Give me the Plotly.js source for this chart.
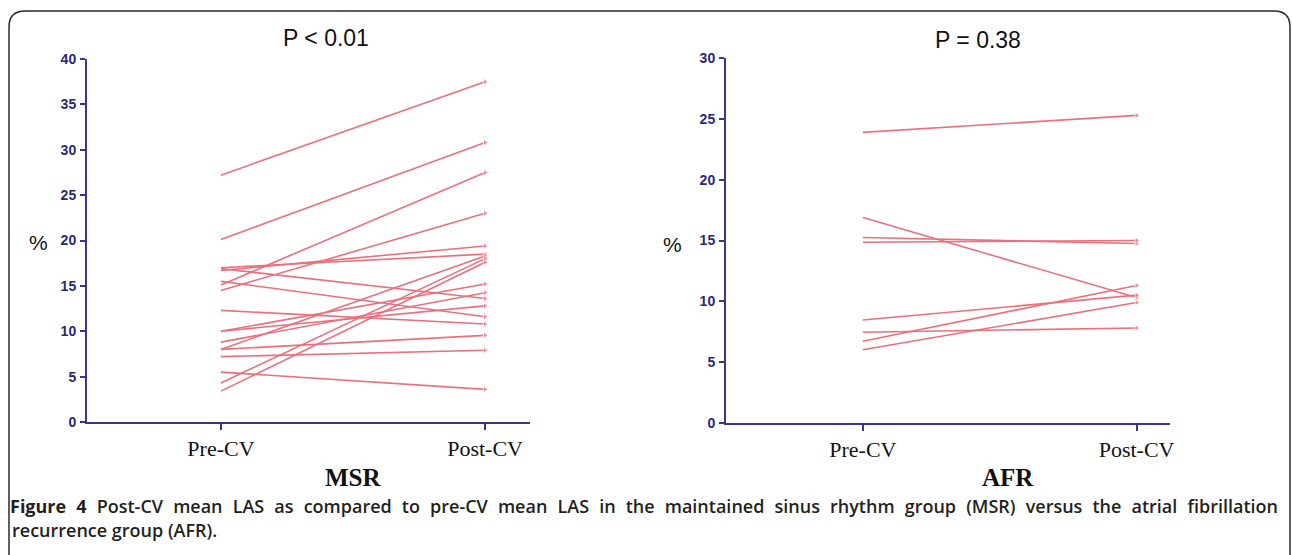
<!DOCTYPE html>
<html>
<head>
<meta charset="utf-8">
<script src="https://cdn.plot.ly/plotly-3.0.1.min.js"></script>
<style>html,body{margin:0;padding:0;background:#fff;}#chart{width:1292px;height:555px;}</style>
</head>
<body>
<div id="chart"></div>
<script>
// ---- data ----
const categories = ['Pre-CV', 'Post-CV'];
const msrPre  = [27.2, 20.1, 15.1, 14.5, 16.7, 17.0, 15.5, 16.9, 12.3, 10.0, 10.0, 8.8, 8.0, 8.0, 7.2, 5.5, 4.3, 3.4];
const msrPost = [37.5, 30.8, 27.5, 23.0, 19.4, 18.5, 11.6, 13.6, 10.8, 15.2, 12.8, 14.25, 18.3, 9.55, 7.9, 3.6, 18.0, 17.6];
const afrPre  = [23.9, 16.9, 15.25, 14.85, 8.45, 7.45, 6.7, 6.0];
const afrPost = [25.3, 10.3, 14.75, 15.0, 10.5, 7.8, 11.3, 9.9];
const yTicksMSR = [0, 5, 10, 15, 20, 25, 30, 35, 40];
const yTicksAFR = [0, 5, 10, 15, 20, 25, 30];
const titleLeft = 'P < 0.01';
const titleRight = 'P = 0.38';
const groupLeft = 'MSR';
const groupRight = 'AFR';
const yLabel = '%';
const captionBold = 'Figure 4';
const captionLine1 = 'Post-CV mean LAS as compared to pre-CV mean LAS in the maintained sinus rhythm group (MSR) versus the atrial fibrillation';
const captionLine2 = 'recurrence group (AFR).';

// ---- styling ----
const W = 1292, H = 555;
const lineColor = '#ec6f7c';
const axisColor = '#3a3590';
const tickColor = '#2b2878';
const px = x => x / W;
const py = y => 1 - y / H;

function makeTraces(pre, post, xa, ya) {
  return pre.map((v, i) => ({
    type: 'scatter', mode: 'lines+markers',
    x: categories, y: [v, post[i]],
    xaxis: xa, yaxis: ya,
    line: {color: lineColor, width: 1.6},
    marker: {symbol: 'triangle-right', size: [0, 6], color: lineColor},
    hoverinfo: 'x+y'
  }));
}

const data = [].concat(
  makeTraces(msrPre, msrPost, 'x', 'y'),
  makeTraces(afrPre, afrPost, 'x2', 'y2')
);

const xBase = {
  type: 'category', categoryorder: 'array', categoryarray: categories,
  showline: true, linecolor: axisColor, linewidth: 2,
  ticks: 'outside', ticklen: 6, tickwidth: 2, tickcolor: axisColor,
  tickfont: {family: 'Liberation Serif', size: 22, color: '#111'},
  ticklabelstandoff: 0,
  showgrid: false, zeroline: false, fixedrange: true
};
const yBase = {
  showline: true, linecolor: axisColor, linewidth: 2,
  ticks: 'outside', ticklen: 5, tickwidth: 2, tickcolor: axisColor,
  tickfont: {family: 'Liberation Sans', size: 14, color: tickColor, weight: 'bold'},
  showgrid: false, zeroline: false, fixedrange: true, ticklabelstandoff: 1
};

const frame = 'M ' + px(9) + ',' + py(560) + ' L ' + px(9) + ',' + py(27) +
  ' Q ' + px(9) + ',' + py(11) + ' ' + px(25) + ',' + py(11) +
  ' L ' + px(1274) + ',' + py(11) +
  ' Q ' + px(1290) + ',' + py(11) + ' ' + px(1290) + ',' + py(27) +
  ' L ' + px(1290) + ',' + py(560);

function ann(text, x, y, font, xanchor) {
  return {text: text, x: px(x), y: py(y), xref: 'paper', yref: 'paper',
    showarrow: false, xanchor: xanchor || 'center', yanchor: 'middle', font: font};
}

const layout = {
  width: W, height: H,
  margin: {l: 0, r: 0, t: 0, b: 0},
  paper_bgcolor: '#fff', plot_bgcolor: 'rgba(0,0,0,0)',
  showlegend: false,
  xaxis: Object.assign({}, xBase, {domain: [px(87), px(530)], range: [-0.507, 1.17], anchor: 'y'}),
  yaxis: Object.assign({}, yBase, {domain: [py(422), py(59)], range: [0, 40], tickvals: yTicksMSR, anchor: 'x'}),
  xaxis2: Object.assign({}, xBase, {domain: [px(726), px(1170)], range: [-0.5, 1.122], anchor: 'y2'}),
  yaxis2: Object.assign({}, yBase, {domain: [py(422.7), py(58.3)], range: [0, 30], tickvals: yTicksAFR, anchor: 'x2'}),
  shapes: [{type: 'path', path: frame, xref: 'paper', yref: 'paper', line: {color: '#2a2a2a', width: 1.5}}],
  annotations: [
    ann(titleLeft, 326, 38, {family: 'Liberation Sans', size: 23, color: '#111'}),
    ann(titleRight, 978, 40, {family: 'Liberation Sans', size: 23, color: '#111'}),
    ann(yLabel, 38, 243, {family: 'Liberation Sans', size: 21, color: '#111'}),
    ann(yLabel, 672, 245, {family: 'Liberation Sans', size: 21, color: '#111'}),
    ann(groupLeft, 353, 477, {family: 'Liberation Serif', size: 25, color: '#111', weight: 'bold'}),
    ann(groupRight, 1008, 477, {family: 'Liberation Serif', size: 25, color: '#111', weight: 'bold'}),
    ann('<b>' + captionBold + '</b> ' + captionLine1, 10, 506, {family: 'Open Sans', size: 18, color: '#231f20', weight: 600}, 'left'),
    ann(captionLine2, 10, 530, {family: 'Open Sans', size: 18, color: '#231f20', weight: 600}, 'left')
  ]
};

Plotly.newPlot('chart', data, layout, {staticPlot: true, displayModeBar: false}).then(function (gd) {
  // justify the first caption line between x=10 and x=1278, as in the printed figure
  const left = 10, right = 1278;
  const base = gd.getBoundingClientRect();
  gd.querySelectorAll('.annotation-text').forEach(function (t) {
    if (t.textContent.indexOf(captionBold) !== 0) return;
    const w0 = t.getBoundingClientRect().width;
    const spaces = (t.textContent.match(/ /g) || []).length;
    if (spaces > 0 && w0 < right - left) {
      t.style.wordSpacing = ((right - left - w0) / spaces).toFixed(2) + 'px';
    }
    const r = t.getBoundingClientRect();
    const dx = left - (r.left - base.left);
    const shift = function (el) {
      const xv = parseFloat(el.getAttribute('x'));
      if (!isNaN(xv)) el.setAttribute('x', xv + dx);
    };
    shift(t);
    t.querySelectorAll('tspan.line').forEach(shift);
  });
});
</script>
</body>
</html>
